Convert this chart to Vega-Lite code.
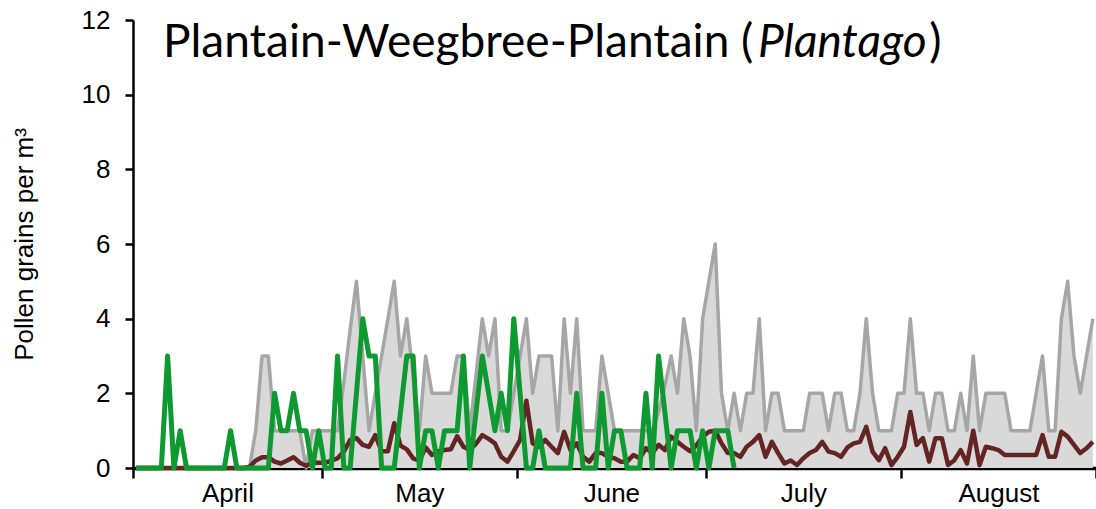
{
"$schema": "https://vega.github.io/schema/vega-lite/v6.json",
"width": 963, "height": 448,
"autosize": {"type": "none"},
"padding": {"left": 133, "top": 20, "right": 0, "bottom": 41},
"background": "white",
"config": {"view": {"stroke": null}, "font": "Liberation Sans"},
"datasets": {"pollen": [
{"day":1,"max":0,"mean":0,"current":0},{"day":2,"max":0,"mean":0,"current":0},{"day":3,"max":0,"mean":0,"current":0},{"day":4,"max":0,"mean":0,"current":0},{"day":5,"max":0,"mean":0,"current":0},
{"day":6,"max":0,"mean":0,"current":3},{"day":7,"max":0,"mean":0,"current":0},{"day":8,"max":0,"mean":0,"current":1},{"day":9,"max":0,"mean":0,"current":0},{"day":10,"max":0,"mean":0,"current":0},
{"day":11,"max":0,"mean":0,"current":0},{"day":12,"max":0,"mean":0,"current":0},{"day":13,"max":0,"mean":0,"current":0},{"day":14,"max":0,"mean":0,"current":0},{"day":15,"max":0,"mean":0,"current":0},
{"day":16,"max":0,"mean":0,"current":1},{"day":17,"max":0,"mean":0,"current":0},{"day":18,"max":0,"mean":0,"current":0},{"day":19,"max":0,"mean":0.03,"current":0},{"day":20,"max":1,"mean":0.2,"current":0},
{"day":21,"max":3,"mean":0.29,"current":0},{"day":22,"max":3,"mean":0.29,"current":0},{"day":23,"max":1,"mean":0.17,"current":2},{"day":24,"max":1,"mean":0.12,"current":1},{"day":25,"max":1,"mean":0.2,"current":1},
{"day":26,"max":1,"mean":0.29,"current":2},{"day":27,"max":1,"mean":0.14,"current":1},{"day":28,"max":0,"mean":0.06,"current":1},{"day":29,"max":1,"mean":0.14,"current":0},{"day":30,"max":1,"mean":0.14,"current":1},
{"day":31,"max":1,"mean":0.14,"current":0},{"day":32,"max":1,"mean":0.2,"current":0},{"day":33,"max":1,"mean":0.26,"current":3},{"day":34,"max":2.3,"mean":0.44,"current":0},{"day":35,"max":3.7,"mean":0.75,"current":0},
{"day":36,"max":5,"mean":0.8,"current":2},{"day":37,"max":3,"mean":0.62,"current":4},{"day":38,"max":1,"mean":0.57,"current":3},{"day":39,"max":2,"mean":0.88,"current":3},{"day":40,"max":3,"mean":0.45,"current":0},
{"day":41,"max":4,"mean":0.45,"current":0},{"day":42,"max":5,"mean":1.2,"current":0},{"day":43,"max":3,"mean":0.6,"current":1.5},{"day":44,"max":4,"mean":0.5,"current":3},{"day":45,"max":2.5,"mean":0.26,"current":3},
{"day":46,"max":1,"mean":0.2,"current":0},{"day":47,"max":3,"mean":0.55,"current":1},{"day":48,"max":2,"mean":0.35,"current":1},{"day":49,"max":2,"mean":0.45,"current":0},{"day":50,"max":2,"mean":0.48,"current":1},
{"day":51,"max":2,"mean":0.5,"current":1},{"day":52,"max":3,"mean":0.85,"current":1},{"day":53,"max":3,"mean":0.57,"current":3},{"day":54,"max":1,"mean":0.48,"current":0},{"day":55,"max":2.5,"mean":0.65,"current":1.5},
{"day":56,"max":4,"mean":0.88,"current":3},{"day":57,"max":3,"mean":0.78,"current":2},{"day":58,"max":4,"mean":0.66,"current":1},{"day":59,"max":1,"mean":0.3,"current":2},{"day":60,"max":1,"mean":0.17,"current":1},
{"day":61,"max":2,"mean":0.45,"current":4},{"day":62,"max":3,"mean":0.75,"current":2},{"day":63,"max":4,"mean":1.8,"current":0},{"day":64,"max":2,"mean":0.66,"current":0},{"day":65,"max":3,"mean":0.57,"current":1},
{"day":66,"max":3,"mean":0.75,"current":0},{"day":67,"max":3,"mean":0.57,"current":0},{"day":68,"max":1,"mean":0.4,"current":0},{"day":69,"max":4,"mean":0.97,"current":0},{"day":70,"max":2,"mean":0.48,"current":0},
{"day":71,"max":4,"mean":0.66,"current":2},{"day":72,"max":1,"mean":0.3,"current":0},{"day":73,"max":1,"mean":0.17,"current":0},{"day":74,"max":1,"mean":0.4,"current":0},{"day":75,"max":3,"mean":0.4,"current":2},
{"day":76,"max":2,"mean":0.3,"current":0},{"day":77,"max":1,"mean":0.26,"current":1},{"day":78,"max":1,"mean":0.17,"current":1},{"day":79,"max":1,"mean":0.17,"current":0},{"day":80,"max":1,"mean":0.35,"current":0},
{"day":81,"max":1,"mean":0.26,"current":0},{"day":82,"max":1,"mean":0.53,"current":2},{"day":83,"max":1,"mean":0.4,"current":0},{"day":84,"max":1.5,"mean":0.62,"current":3},{"day":85,"max":2.2,"mean":0.48,"current":1.5},
{"day":86,"max":3,"mean":0.84,"current":0},{"day":87,"max":2,"mean":0.7,"current":1},{"day":88,"max":4,"mean":0.57,"current":1},{"day":89,"max":3,"mean":0.45,"current":1},{"day":90,"max":1,"mean":0.6,"current":0},
{"day":91,"max":4,"mean":0.84,"current":1},{"day":92,"max":5,"mean":0.97,"current":0},{"day":93,"max":6,"mean":1.0,"current":1},{"day":94,"max":2,"mean":0.66,"current":1},{"day":95,"max":1,"mean":0.4,"current":1},
{"day":96,"max":2,"mean":0.4,"current":0},{"day":97,"max":1,"mean":0.3,"current":null},{"day":98,"max":2,"mean":0.57,"current":null},{"day":99,"max":2,"mean":0.7,"current":null},{"day":100,"max":4,"mean":0.88,"current":null},
{"day":101,"max":1,"mean":0.3,"current":null},{"day":102,"max":2,"mean":0.7,"current":null},{"day":103,"max":2,"mean":0.4,"current":null},{"day":104,"max":1,"mean":0.12,"current":null},{"day":105,"max":1,"mean":0.2,"current":null},
{"day":106,"max":1,"mean":0.08,"current":null},{"day":107,"max":1,"mean":0.26,"current":null},{"day":108,"max":2,"mean":0.4,"current":null},{"day":109,"max":2,"mean":0.48,"current":null},{"day":110,"max":2,"mean":0.7,"current":null},
{"day":111,"max":1,"mean":0.44,"current":null},{"day":112,"max":2,"mean":0.4,"current":null},{"day":113,"max":2,"mean":0.3,"current":null},{"day":114,"max":1,"mean":0.55,"current":null},{"day":115,"max":1,"mean":0.66,"current":null},
{"day":116,"max":2,"mean":0.7,"current":null},{"day":117,"max":4,"mean":1.1,"current":null},{"day":118,"max":2,"mean":0.44,"current":null},{"day":119,"max":1,"mean":0.21,"current":null},{"day":120,"max":1,"mean":0.53,"current":null},
{"day":121,"max":1,"mean":0.08,"current":null},{"day":122,"max":2,"mean":0.3,"current":null},{"day":123,"max":2,"mean":0.57,"current":null},{"day":124,"max":4,"mean":1.5,"current":null},{"day":125,"max":2,"mean":0.62,"current":null},
{"day":126,"max":2,"mean":0.8,"current":null},{"day":127,"max":1,"mean":0.17,"current":null},{"day":128,"max":2,"mean":0.8,"current":null},{"day":129,"max":2,"mean":0.8,"current":null},{"day":130,"max":1,"mean":0.08,"current":null},
{"day":131,"max":1,"mean":0.21,"current":null},{"day":132,"max":2,"mean":0.48,"current":null},{"day":133,"max":1,"mean":0.12,"current":null},{"day":134,"max":3,"mean":1.0,"current":null},{"day":135,"max":1,"mean":0.08,"current":null},
{"day":136,"max":2,"mean":0.57,"current":null},{"day":137,"max":2,"mean":0.53,"current":null},{"day":138,"max":2,"mean":0.48,"current":null},{"day":139,"max":2,"mean":0.35,"current":null},{"day":140,"max":1,"mean":0.35,"current":null},
{"day":141,"max":1,"mean":0.35,"current":null},{"day":142,"max":1,"mean":0.35,"current":null},{"day":143,"max":1,"mean":0.35,"current":null},{"day":144,"max":2,"mean":0.35,"current":null},{"day":145,"max":3,"mean":0.88,"current":null},
{"day":146,"max":1,"mean":0.3,"current":null},{"day":147,"max":1,"mean":0.3,"current":null},{"day":148,"max":4,"mean":0.97,"current":null},{"day":149,"max":5,"mean":0.84,"current":null},{"day":150,"max":3,"mean":0.62,"current":null},
{"day":151,"max":2,"mean":0.4,"current":null},{"day":152,"max":3,"mean":0.53,"current":null},{"day":153,"max":4,"mean":0.7,"current":null}
]},
"layer": [
  {"data": {"name": "pollen"},
   "mark": {"type": "area", "color": "#d9d9d9", "opacity": 1, "line": {"color": "#a6a6a6", "strokeWidth": 3.5, "strokeJoin": "round"}},
   "encoding": {
    "x": {"field": "day", "type": "quantitative",
      "scale": {"domain": [0.5, 153.5], "nice": false, "zero": false},
      "axis": {
        "values": [0.5, 15.5, 30.5, 46, 61.5, 76.5, 91.5, 107, 122.5, 138, 153.5],
        "labelExpr": "datum.value == 15.5 ? 'April' : datum.value == 46 ? 'May' : datum.value == 76.5 ? 'June' : datum.value == 107 ? 'July' : datum.value == 138 ? 'August' : ''",
        "title": null, "grid": false,
        "tickSize": 10, "tickWidth": 2.5, "tickColor": "black",
        "tickOpacity": {"condition": {"test": "indexof([0.5,30.5,61.5,91.5,122.5,153.5], datum.value) >= 0", "value": 1}, "value": 0},
        "domainColor": "black", "domainWidth": 3.5,
        "labelFont": "Liberation Sans", "labelFontSize": 26, "labelColor": "black", "labelPadding": 2,
        "labelOverlap": false, "labelFlush": false, "labelBound": false
      }
    },
    "y": {"field": "max", "type": "quantitative", "title": "Pollen grains per m³",
     "scale": {"domain": [0, 12], "nice": false, "zero": true},
     "axis": {"values": [0,2,4,6,8,10,12], "grid": false,
       "titleFont": "Liberation Sans", "titleFontSize": 26, "titleFontWeight": "normal", "titleColor": "black", "titlePadding": 44,
       "labelFont": "Liberation Sans", "labelFontSize": 26, "labelColor": "black", "labelPadding": 15,
       "tickSize": 8, "tickWidth": 2.5, "tickColor": "black", "domainColor": "black", "domainWidth": 2.5}}}},
  {"data": {"name": "pollen"},
   "mark": {"type": "line", "color": "#632523", "strokeWidth": 4.5, "strokeJoin": "round"},
   "encoding": {"x": {"field": "day", "type": "quantitative"},
     "y": {"field": "mean", "type": "quantitative", "title": "Pollen grains per m³"}}},
  {"data": {"name": "pollen"},
   "mark": {"type": "line", "color": "#0e9a31", "strokeWidth": 5, "strokeJoin": "round"},
   "encoding": {"x": {"field": "day", "type": "quantitative"},
     "y": {"field": "current", "type": "quantitative", "title": "Pollen grains per m³"}}},
  {"data": {"values": [{"t": "Plantain-Weegbree-Plantain ("}]},
   "mark": {"type": "text", "font": "Lato", "fontSize": 46, "align": "left", "baseline": "alphabetic", "color": "black"},
   "encoding": {"x": {"datum": 5.27, "type": "quantitative"}, "y": {"datum": 11.0, "type": "quantitative"}, "text": {"field": "t"}}},
  {"data": {"values": [{"t": "Plantago"}]},
   "mark": {"type": "text", "font": "Lato", "fontSize": 46, "fontStyle": "italic", "align": "left", "baseline": "alphabetic", "color": "black"},
   "encoding": {"x": {"datum": 99.8, "type": "quantitative"}, "y": {"datum": 11.0, "type": "quantitative"}, "text": {"field": "t"}}},
  {"data": {"values": [{"t": ")"}]},
   "mark": {"type": "text", "font": "Lato", "fontSize": 46, "align": "left", "baseline": "alphabetic", "color": "black"},
   "encoding": {"x": {"datum": 127.0, "type": "quantitative"}, "y": {"datum": 11.0, "type": "quantitative"}, "text": {"field": "t"}}}
]
}
